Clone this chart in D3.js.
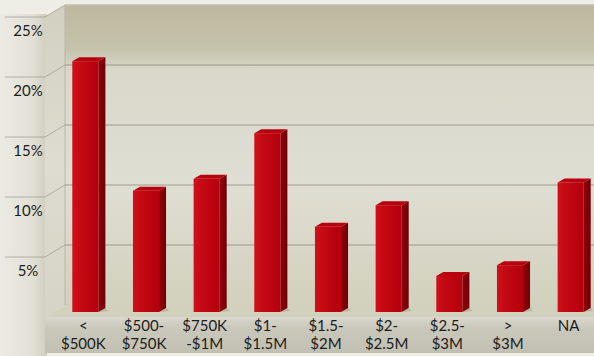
<!DOCTYPE html>
<html>
<head>
<meta charset="utf-8">
<script src="https://cdn.jsdelivr.net/npm/d3@7"></script>
<style>
  html, body { margin: 0; padding: 0; background: #efeee6; }
  svg { display: block; }
  text { font-family: Lato, "Open Sans", sans-serif; }
</style>
</head>
<body>
<svg id="chart" width="594" height="356"></svg>
<script>
// Share of listings by price band
const categories = ["< $500K", "$500- $750K", "$750K -$1M", "$1- $1.5M", "$1.5- $2M",
                    "$2- $2.5M", "$2.5- $3M", "> $3M", "NA"];
const shares = [20.9, 10.1, 11.1, 14.9, 7.1, 8.9, 3.0, 3.9, 10.8];
const yTicks = [5, 10, 15, 20, 25];

const W = 594, H = 356;
const svg = d3.select("#chart");

// Back wall scales; the front plane sits 20px left and 12px lower
const y = d3.scaleLinear().domain([0, 25]).range([305, 5]);
const x = d3.scaleBand().domain(categories).range([67, 613])
  .paddingInner(0.57).paddingOuter(0.285);
const wallL = 65, depthX = 20, depthY = 12;
const frontY = v => y(v) + depthY;

const defs = svg.append("defs");
function lin(id, x2, y2, stops) {
  const g = defs.append("linearGradient").attr("id", id)
    .attr("x1", 0).attr("y1", 0).attr("x2", x2).attr("y2", y2);
  stops.forEach(([o, c]) => g.append("stop").attr("offset", o).attr("stop-color", c));
}
lin("bgLeft", 1, 0, [[0, "#ecebe3"], [0.7, "#e2e0d5"], [1, "#cfcdbf"]]);
lin("backWall", 0, 1, [[0, "#bdb99f"], [0.15, "#c6c3ad"], [0.22, "#d9d8cb"], [0.6, "#dfded3"], [1, "#d2d1bd"]]);
lin("sideWall", 0, 1, [[0, "#d2d0c0"], [0.5, "#dedcd1"], [1, "#d6d4c6"]]);
lin("band", 0, 1, [[0, "#d9d7cc"], [0.3, "#cac8bb"], [1, "#c2c0b3"]]);
lin("barFront", 1, 0, [[0, "#d0101c"], [0.25, "#c60a14"], [1, "#b2000c"]]);
lin("barSide", 1, 0, [[0, "#8e0409"], [1, "#700006"]]);

// Page background
svg.append("rect").attr("width", W).attr("height", H).attr("fill", "#efeee6");
svg.append("rect").attr("x", 0).attr("y", 14).attr("width", 47).attr("height", H - 14)
  .attr("fill", "url(#bgLeft)");

// Back wall
svg.append("rect").attr("x", wallL).attr("y", y(25)).attr("width", W - wallL)
  .attr("height", y(0) - y(25)).attr("fill", "url(#backWall)");
svg.append("line").attr("x1", wallL).attr("x2", W).attr("y1", y(25)).attr("y2", y(25))
  .attr("stroke", "#f4f3ec").attr("stroke-width", 1.5);

// Left side wall
const poly = pts => pts.map(p => p.join(",")).join(" ");
svg.append("polygon")
  .attr("points", poly([[wallL - depthX, frontY(25)], [wallL, y(25)], [wallL, y(0)], [wallL - depthX, frontY(0)]]))
  .attr("fill", "url(#sideWall)");
svg.append("line").attr("x1", wallL).attr("x2", wallL).attr("y1", y(25)).attr("y2", y(0))
  .attr("stroke", "#b9b8a6").attr("stroke-width", 1);

// Floor
svg.append("polygon")
  .attr("points", poly([[wallL - depthX, frontY(0)], [wallL, y(0)], [W, y(0)], [W, frontY(0)]]))
  .attr("fill", "#d2d1bd");

// Category label band
svg.append("rect").attr("x", wallL - depthX).attr("y", frontY(0)).attr("width", W - wallL + depthX)
  .attr("height", 36).attr("fill", "url(#band)");

// Gridlines: back wall, side wall and a short lead-in on the left
const grid = svg.append("g").attr("stroke", "#8f8d7e").attr("stroke-width", 1).attr("fill", "none");
yTicks.forEach(v => {
  grid.append("line").attr("x1", wallL).attr("x2", W).attr("y1", y(v)).attr("y2", y(v))
    .attr("stroke-opacity", 0.8);
  grid.append("polyline")
    .attr("points", poly([[5, frontY(v)], [wallL - depthX, frontY(v)], [wallL, y(v)]]))
    .attr("stroke-opacity", 0.6);
});

// Y tick labels
svg.append("g").selectAll("text").data(yTicks).join("text")
  .attr("x", 28).attr("y", v => frontY(v) + 13)
  .attr("text-anchor", "middle").attr("dominant-baseline", "central")
  .attr("font-size", 15).attr("fill", "#1c1c1c")
  .text(v => v + "%");

// Bars as boxes: front face, right side, top
const bw = x.bandwidth(), bdx = 7, bdy = 4;
const barX = c => x(c) - 12;
const barTop = v => y(v) + 7;
const barBase = y(0) + 7;
const bars = svg.append("g").selectAll("g").data(categories.map((c, i) => ({ c, v: shares[i] })))
  .join("g");
bars.append("polygon")
  .attr("points", d => poly([[barX(d.c) + bw, barBase], [barX(d.c) + bw + bdx + 3, barBase - 1],
                             [barX(d.c) + bw + bdx, barBase - bdy]]))
  .attr("fill", "#a9a793").attr("opacity", 0.6);
bars.append("polygon")
  .attr("points", d => {
    const x0 = barX(d.c) + bw, t = barTop(d.v);
    return poly([[x0, t], [x0 + bdx, t - bdy], [x0 + bdx, barBase - bdy], [x0, barBase]]);
  })
  .attr("fill", "url(#barSide)");
bars.append("polygon")
  .attr("points", d => {
    const x0 = barX(d.c), t = barTop(d.v);
    return poly([[x0, t], [x0 + bdx, t - bdy], [x0 + bw + bdx, t - bdy], [x0 + bw, t]]);
  })
  .attr("fill", "#b8000e");
bars.append("rect")
  .attr("x", d => barX(d.c)).attr("y", d => barTop(d.v))
  .attr("width", bw).attr("height", d => barBase - barTop(d.v))
  .attr("fill", "url(#barFront)");

// Category labels, one text per line
const labelRows = categories.flatMap(c => c.split(" ").map((line, i) => ({ c, line, i })));
svg.append("g").selectAll("text").data(labelRows).join("text")
  .attr("x", d => barX(d.c) + bw / 2 - 2)
  .attr("y", d => 331 + d.i * 18)
  .attr("text-anchor", "middle").attr("font-size", 15).attr("fill", "#1c1c1c")
  .text(d => d.line);
</script>
</body>
</html>
